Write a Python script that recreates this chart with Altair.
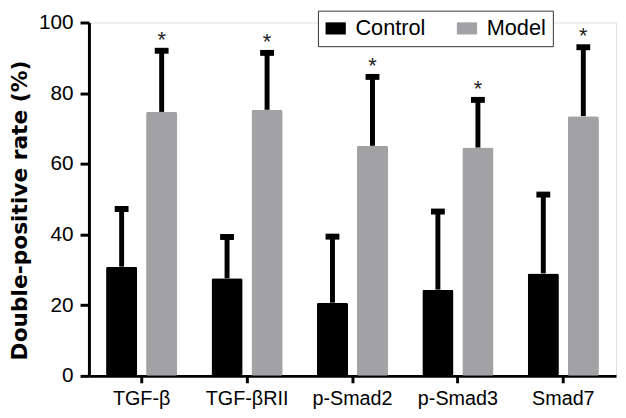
import altair as alt
import pandas as pd

categories = ["TGF-β", "TGF-βRII", "p-Smad2", "p-Smad3", "Smad7"]
groups = ["Control", "Model"]
control_mean = [30.9, 27.6, 20.7, 24.4, 29.0]
control_upper = [47.2, 39.3, 39.4, 46.5, 51.3]
model_mean = [74.7, 75.3, 65.1, 64.6, 73.5]
model_upper = [92.0, 91.4, 84.6, 78.1, 93.0]
model_sig = ["*", "*", "*", "*", "*"]

rows = []
for i, c in enumerate(categories):
    rows.append({"cat": c, "group": "Control", "mean": control_mean[i],
                 "upper": control_upper[i], "sig": ""})
    rows.append({"cat": c, "group": "Model", "mean": model_mean[i],
                 "upper": model_upper[i], "sig": model_sig[i]})
df = pd.DataFrame(rows)

FONT = "Liberation Sans"

x = alt.X("cat:N", sort=categories,
          scale=alt.Scale(paddingInner=0.325, paddingOuter=0.1625),
          axis=alt.Axis(title=None, labelAngle=0, labelFontSize=20, labelFont=FONT,
                        labelColor="black", labelPadding=6, tickSize=7, tickWidth=3,
                        tickColor="black", domainColor="black", domainWidth=3))
xo = alt.XOffset("group:N", sort=groups,
                 scale=alt.Scale(paddingInner=0.222, paddingOuter=0))

base = alt.Chart(df)

bars = base.mark_bar(cornerRadius=2).encode(
    x=x, xOffset=xo,
    y=alt.Y("mean:Q", scale=alt.Scale(domain=[0, 100], nice=False),
            axis=alt.Axis(values=[0, 20, 40, 60, 80, 100], grid=False,
                          title="Double-positive rate (%)",
                          titleFont="DejaVu Sans", titleFontSize=22, titleFontWeight="bold",
                          titleColor="black", titleAngle=-90, titleX=-63, titleY=190,
                          titleAlign="center", titleBaseline="alphabetic",
                          labelFontSize=21, labelFont=FONT, labelColor="black",
                          labelPadding=7, tickSize=9, tickWidth=3, tickColor="black",
                          domainColor="black", domainWidth=3)),
    color=alt.Color("group:N", sort=groups,
                    scale=alt.Scale(domain=groups, range=["#000000", "#a2a2a4"]),
                    legend=alt.Legend(title=None, orient="none", direction="horizontal",
                                      legendX=232, legendY=-12,
                                      symbolType="M-1,-0.6H1V0.6H-1Z", symbolSize=420,
                                      symbolStrokeWidth=0, symbolOpacity=1,
                                      labelFont=FONT, labelFontSize=22, labelColor="black",
                                      labelOffset=9, columnPadding=31, padding=7,
                                      strokeColor="#333333", fillColor="white")),
)

rules = base.mark_rule(color="black", strokeWidth=5).encode(
    x=x, xOffset=xo, y="mean:Q", y2="upper:Q"
)

caps = base.mark_tick(color="black", size=14, thickness=6, opacity=1).encode(
    x=x, xOffset=xo, y="upper:Q"
)

stars = base.transform_filter(alt.datum.sig != "").mark_text(
    font=FONT, fontSize=22, color="#222222", baseline="alphabetic", dy=-4
).encode(x=x, xOffset=xo, y="upper:Q", text="sig:N")

chart = alt.layer(bars, rules, caps, stars).properties(
    width=534, height=358,
    autosize=alt.AutoSizeParams(type="none"),
    padding={"left": 82, "top": 12, "right": 2, "bottom": 40},
).configure_view(stroke=None).configure(background="white")

chart.save("out.html", embed_options={"renderer": "svg", "actions": False})
